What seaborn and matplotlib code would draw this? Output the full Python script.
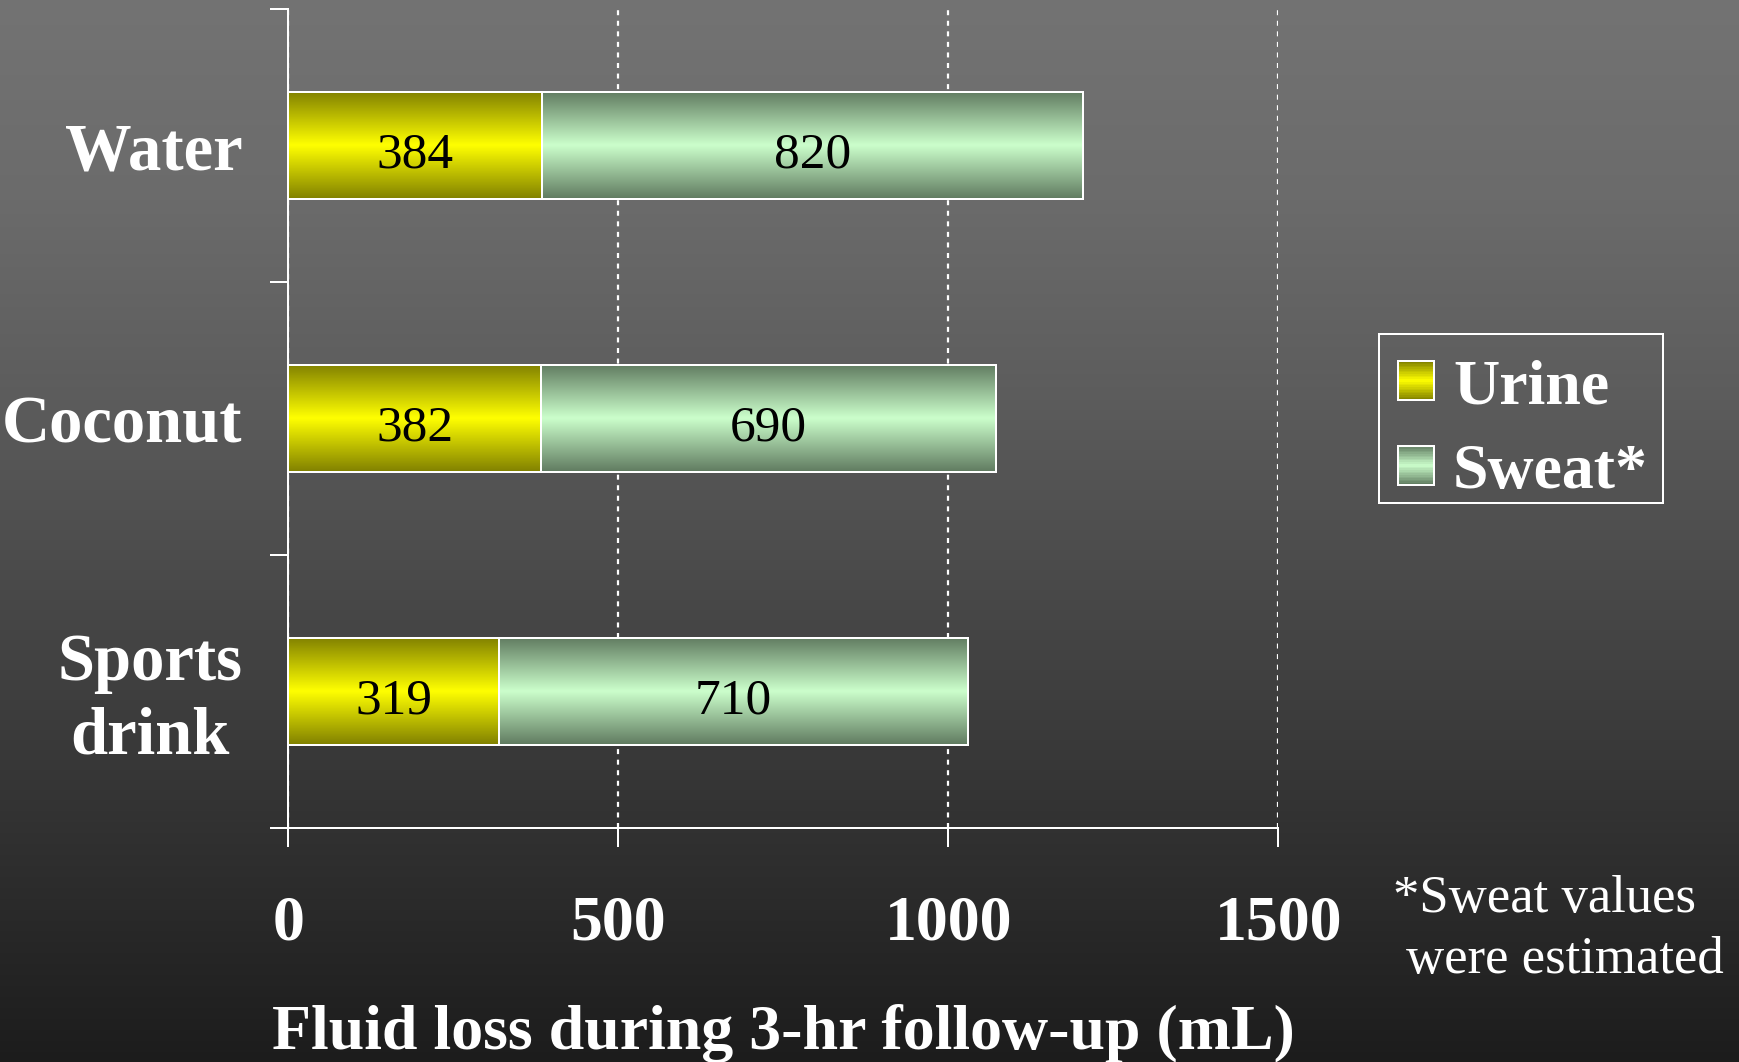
import numpy as np
import pandas as pd
import matplotlib
matplotlib.use("Agg")
import matplotlib.pyplot as plt
import matplotlib.transforms as mtransforms
import seaborn as sns
from matplotlib.patches import Patch, Rectangle
from matplotlib.legend_handler import HandlerBase

# ---------------- data ----------------
drinks = ["Water", "Coconut", "Sports\ndrink"]
urine = [384, 382, 319]
sweat = [820, 690, 710]
x_ticks = [0, 500, 1000, 1500]
x_label = "Fluid loss during 3-hr follow-up (mL)"
legend_labels = ["Urine", "Sweat*"]
footnote_1 = "*Sweat values"
footnote_2 = "were estimated"

df = pd.DataFrame({"drink": drinks, "urine": urine, "sweat": sweat})
df["total"] = df["urine"] + df["sweat"]

# ---------------- style ----------------
sns.set_theme(style="ticks")
plt.rcParams["font.family"] = ["Liberation Serif", "DejaVu Serif"]
plt.rcParams["lines.scale_dashes"] = False

W, H, DPI = 1740, 1062, 100
fig = plt.figure(figsize=(W / DPI, H / DPI), dpi=DPI)

# background vertical gradient
bg = fig.add_axes([0, 0, 1, 1], zorder=-10)
ypix = np.arange(H)
grey = np.interp(ypix, [0, 200, 400, 600, 800, 1062], [115, 107, 92, 72, 52, 28]) / 255.0
bgimg = np.repeat(grey[:, None, None], 3, axis=2)
bg.imshow(bgimg, aspect="auto", extent=[0, 1, 0, 1], interpolation="bilinear")
bg.axis("off")

ax = fig.add_axes([288.5 / W, 1 - 828 / H, (1278.4 - 288.5) / W, (828 - 9) / H])
ax.set_facecolor("none")

YEL_D = np.array([128, 128, 0]) / 255
YEL_L = np.array([255, 255, 0]) / 255
GRN_D = np.array([95, 122, 95]) / 255
GRN_L = np.array([204, 255, 204]) / 255
LW = 1.44

sns.barplot(data=df, y="drink", x="total", orient="h", color=GRN_L, width=0.395,
            edgecolor="white", linewidth=LW, errorbar=None, ax=ax)
sns.barplot(data=df, y="drink", x="urine", orient="h", color=YEL_L, width=0.395,
            edgecolor="white", linewidth=LW, errorbar=None, ax=ax)


def grad(dark, light, n=64):
    s = (np.arange(n) + 0.5) / n
    t = 1 - np.abs(2 * s - 1)
    return dark[None, :] + (light - dark)[None, :] * t[:, None]


patches = list(ax.patches)
nb = len(drinks)
for i, p in enumerate(patches):
    dark, light = (GRN_D, GRN_L) if i < nb else (YEL_D, YEL_L)
    img = grad(dark, light)[:, None, :]
    x0, y0, w, h = p.get_x(), p.get_y(), p.get_width(), p.get_height()
    ax.imshow(img, extent=(x0, x0 + w, y0 + h, y0), aspect="auto",
              interpolation="bilinear", zorder=3 + 2 * i)
    p.set_facecolor("none")
    p.set_zorder(4 + 2 * i)

# value labels
for i in range(nb):
    ax.text(urine[i] / 2, i + 0.082, str(urine[i]), ha="center", va="baseline",
            fontsize=37, color="black", zorder=50)
    ax.text(urine[i] + sweat[i] / 2, i + 0.082, str(sweat[i]), ha="center", va="baseline",
            fontsize=37, color="black", zorder=50)

ax.set_xlim(0, 1500)
ax.set_ylim(2.5, -0.5)

# axes styling
for s in ["top", "right"]:
    ax.spines[s].set_visible(False)
for s in ["left", "bottom"]:
    ax.spines[s].set_color("white")
    ax.spines[s].set_linewidth(LW)

ax.set_xticks(x_ticks)
ax.set_xticklabels([str(v) for v in x_ticks], fontsize=46, fontweight="bold", color="white")
ax.tick_params(axis="x", direction="out", length=13.7, width=LW, color="white", pad=35)

ax.set_yticks([-0.5, 0.5, 1.5, 2.5])
ax.set_yticklabels([])
ax.tick_params(axis="y", which="major", direction="out", length=13, width=LW, color="white")
ax.set_yticks([0, 1, 2], minor=True)
ylabels = ax.set_yticklabels(drinks, minor=True, fontsize=48, fontweight="bold", color="white",
                             ha="right", multialignment="center", linespacing=1.28)
ax.tick_params(axis="y", which="minor", length=0, pad=33)
# nudge the two-line label slightly upward
off = mtransforms.ScaledTranslation(0, 5 / DPI, fig.dpi_scale_trans)
ylabels[2].set_transform(ylabels[2].get_transform() + off)

ax.set_xlabel(x_label, fontsize=46, fontweight="bold", color="white", labelpad=36)
ax.set_ylabel("")

ax.set_axisbelow(True)
ax.xaxis.grid(True, color="white", linestyle=(0, (3.6, 4.0)), linewidth=1.6, zorder=1)
ax.yaxis.grid(False)


# legend with gradient swatches
class GradHandler(HandlerBase):
    def __init__(self, dark, light):
        super().__init__()
        self.dark, self.light = dark, light

    def create_artists(self, legend, orig_handle, xdescent, ydescent, width, height,
                       fontsize, trans):
        n = 24
        cols = grad(self.dark, self.light, n)
        arts = []
        for k in range(n):
            arts.append(Rectangle((-xdescent, -ydescent + height * k / n), width,
                                  height / n * 1.05, facecolor=cols[k], edgecolor="none",
                                  transform=trans))
        arts.append(Rectangle((-xdescent, -ydescent), width, height, facecolor="none",
                              edgecolor="white", linewidth=LW, transform=trans))
        return arts


h1 = Patch(label=legend_labels[0])
h2 = Patch(label=legend_labels[1])
leg = fig.legend(handles=[h1, h2], labels=legend_labels,
                 handler_map={h1: GradHandler(YEL_D, YEL_L), h2: GradHandler(GRN_D, GRN_L)},
                 loc="upper left", bbox_to_anchor=(1398 / W, 1 - 359 / H),
                 bbox_transform=fig.transFigure, borderaxespad=0,
                 prop={"size": 46, "weight": "bold"}, frameon=False,
                 handlelength=0.56, handleheight=0.56, handletextpad=0.30,
                 labelspacing=0.42, borderpad=0)
for t in leg.get_texts():
    t.set_color("white")

# legend box
fig.add_artist(Rectangle((1379 / W, 1 - 503 / H), 284 / W, 169 / H,
                         transform=fig.transFigure, fill=False, edgecolor="white",
                         linewidth=LW))

fig.text(1393 / W, 1 - 912 / H, footnote_1, fontsize=38, color="white", va="baseline", ha="left")
fig.text(1406 / W, 1 - 973 / H, footnote_2, fontsize=38, color="white", va="baseline", ha="left")

fig.savefig("out.png", dpi=DPI)
